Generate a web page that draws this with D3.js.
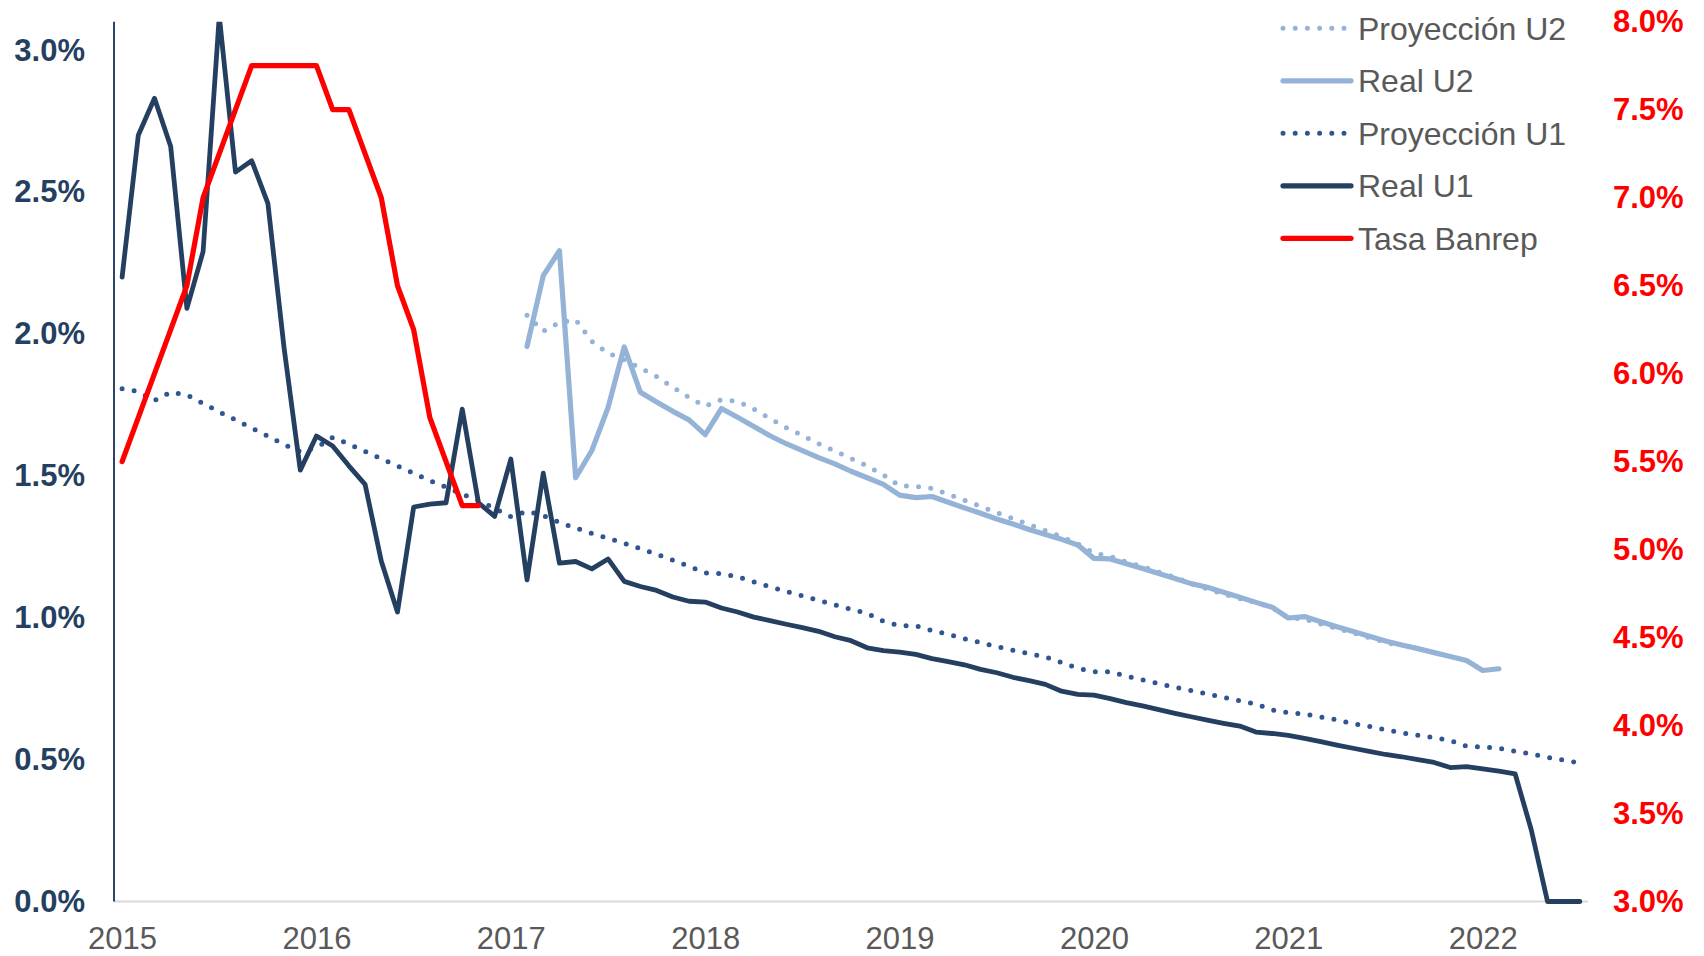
<!DOCTYPE html>
<html>
<head>
<meta charset="utf-8">
<script src="https://cdn.jsdelivr.net/npm/d3@7"></script>
<style>
  html, body { margin: 0; padding: 0; background: #fff; }
  svg { display: block; font-family: "Liberation Sans", Arial, sans-serif; }
</style>
</head>
<body>
<svg id="chart" width="1704" height="956"></svg>
<script>
// ---------------- DATA ----------------
const startMonth = "2015-01";          // first monthly observation
const monthCount = 91;                 // Jan 2015 .. Jul 2022
const yearLabels = ["2015","2016","2017","2018","2019","2020","2021","2022"];
const leftTicks  = [0, 0.5, 1.0, 1.5, 2.0, 2.5, 3.0];
const rightTicks = [3.0, 3.5, 4.0, 4.5, 5.0, 5.5, 6.0, 6.5, 7.0, 7.5, 8.0];

const realU1 = [
  2.20, 2.70, 2.83, 2.66, 2.09, 2.29, 3.12, 2.57, 2.61, 2.46, 1.95, 1.52,
  1.64, 1.605, 1.535, 1.47, 1.20, 1.02, 1.39, 1.40, 1.405, 1.735, 1.405, 1.357,
  1.559, 1.133, 1.509, 1.192, 1.198, 1.172, 1.207, 1.128, 1.110, 1.096, 1.073, 1.058,
  1.055, 1.034, 1.020, 1.002, 0.990, 0.977, 0.965, 0.952, 0.933, 0.919, 0.894, 0.884,
  0.879, 0.871, 0.856, 0.845, 0.834, 0.818, 0.806, 0.790, 0.778, 0.765, 0.741, 0.730,
  0.727, 0.715, 0.701, 0.689, 0.676, 0.663, 0.651, 0.639, 0.628, 0.618, 0.597, 0.592,
  0.585, 0.575, 0.563, 0.551, 0.540, 0.529, 0.518, 0.510, 0.500, 0.490, 0.472, 0.475,
  0.467, 0.459, 0.450, 0.252, 0, 0, 0
];
const proyU1 = [
  1.807, 1.797, 1.765, 1.795, 1.785, 1.755, 1.725, 1.697, 1.668, 1.640, 1.610, 1.585,
  1.600, 1.635, 1.612, 1.586, 1.560, 1.535, 1.509, 1.483, 1.460, 1.435, 1.413, 1.385,
  1.356, 1.375, 1.360, 1.336, 1.316, 1.297, 1.280, 1.262, 1.243, 1.224, 1.203, 1.181,
  1.158, 1.155, 1.144, 1.126, 1.109, 1.093, 1.077, 1.061, 1.045, 1.030, 1.015, 0.987,
  0.972, 0.971, 0.955, 0.941, 0.926, 0.912, 0.898, 0.885, 0.873, 0.862, 0.842, 0.822,
  0.810, 0.809, 0.794, 0.781, 0.768, 0.755, 0.743, 0.731, 0.719, 0.707, 0.696, 0.675,
  0.665, 0.661, 0.650, 0.640, 0.626, 0.617, 0.605, 0.594, 0.586, 0.577, 0.567, 0.547,
  0.545, 0.540, 0.529, 0.520, 0.508, 0.498, 0.488
];
const u2Start = "2017-02";             // U2 series begin here
const realU2 = [
  1.956, 2.205, 2.293, 1.493, 1.589, 1.740, 1.954, 1.794, 1.760, 1.727, 1.697,
  1.645, 1.737, 1.706, 1.674, 1.641, 1.613, 1.589, 1.564, 1.542, 1.516, 1.493, 1.470,
  1.432, 1.423, 1.427, 1.407, 1.387, 1.368, 1.348, 1.330, 1.311, 1.293, 1.276, 1.256,
  1.209, 1.207, 1.190, 1.173, 1.156, 1.138, 1.120, 1.107, 1.090, 1.072, 1.054, 1.037,
  0.999, 1.004, 0.986, 0.968, 0.951, 0.935, 0.918, 0.904, 0.891, 0.877, 0.863, 0.849,
  0.814, 0.820
];
const proyU2 = [
  2.066, 2.009, 2.040, 2.050, 1.974, 1.932, 1.908, 1.880, 1.850, 1.812, 1.776,
  1.745, 1.768, 1.762, 1.735, 1.702, 1.670, 1.642, 1.613, 1.587, 1.561, 1.535, 1.503,
  1.465, 1.462, 1.456, 1.435, 1.414, 1.392, 1.370, 1.349, 1.328, 1.307, 1.285, 1.260,
  1.228, 1.216, 1.196, 1.180, 1.161, 1.142, 1.121, 1.101, 1.083, 1.067, 1.053, 1.036,
  1.000, 0.995, 0.978, 0.962, 0.946, 0.930, 0.914, 0.898
];
const tasaBanrep = [
  5.50, 5.75, 6.00, 6.25, 6.50, 7.00, 7.25, 7.50, 7.75, 7.75, 7.75, 7.75,
  7.75, 7.50, 7.50, 7.25, 7.00, 6.50, 6.25, 5.75, 5.50, 5.25, 5.25
];

const seriesNames = ["Proyección U2", "Real U2", "Proyección U1", "Real U1", "Tasa Banrep"];

// ---------------- BUILD ----------------
const parseM = d3.timeParse("%Y-%m");
const fmtM = d3.timeFormat("%Y-%m");
const months = d3.timeMonth.range(parseM(startMonth), d3.timeMonth.offset(parseM(startMonth), monthCount)).map(fmtM);
const u2Offset = months.indexOf(u2Start);

const toPts = (vals, off) => vals.map((v, i) => ({ m: months[i + off], v }));

const svg = d3.select("#chart");
svg.append("rect").attr("width", 1704).attr("height", 956).attr("fill", "#fff");

const plot = { left: 114, right: 1588, top: 21.7, bottom: 901.5 };

const x = d3.scalePoint().domain(months).range([plot.left, plot.right]).padding(0.5);
const yL = d3.scaleLinear().domain([0, 3.1]).range([plot.bottom, plot.top]);
const yR = d3.scaleLinear().domain([3, 8]).range([plot.bottom, plot.top]);

const FONT = '"Liberation Sans", Arial, sans-serif';

// clip top of plot
svg.append("defs").append("clipPath").attr("id", "clipTop")
  .append("rect").attr("x", 0).attr("y", plot.top).attr("width", 1704).attr("height", 956 - plot.top);

// bottom axis line (gray)
svg.append("line")
  .attr("x1", plot.left).attr("x2", plot.right)
  .attr("y1", plot.bottom).attr("y2", plot.bottom)
  .attr("stroke", "#D9D9D9").attr("stroke-width", 2);

// X axis labels
const xAxis = d3.axisBottom(x)
  .tickValues(months.filter(m => m.endsWith("-01")))
  .tickFormat(m => yearLabels[yearLabels.indexOf(m.slice(0, 4))])
  .tickSize(0).tickPadding(0);
const gx = svg.append("g").attr("transform", `translate(0,${plot.bottom})`).call(xAxis);
gx.select(".domain").remove();
gx.selectAll("text").attr("y", 37).attr("dy", "0.35em")
  .attr("fill", "#595959").style("font-size", "31px").style("font-family", FONT);

// Left axis
const yAxisL = d3.axisLeft(yL).tickValues(leftTicks)
  .tickFormat(d => d.toFixed(1) + "%").tickSize(0).tickPadding(29);
const gl = svg.append("g").attr("transform", `translate(${plot.left},0)`).call(yAxisL);
gl.select(".domain").remove();
gl.selectAll("text").attr("fill", "#253F61").style("font-size", "31px")
  .style("font-weight", "bold").style("font-family", FONT);
svg.append("line")
  .attr("x1", plot.left).attr("x2", plot.left)
  .attr("y1", plot.top).attr("y2", plot.bottom)
  .attr("stroke", "#2B4468").attr("stroke-width", 2);

// Right axis
const yAxisR = d3.axisRight(yR).tickValues(rightTicks)
  .tickFormat(d => d.toFixed(1) + "%").tickSize(0).tickPadding(25);
const gr = svg.append("g").attr("transform", `translate(${plot.right},0)`).call(yAxisR);
gr.select(".domain").remove();
gr.selectAll("text").attr("fill", "#FF0000").style("font-size", "31px")
  .style("font-weight", "bold").style("font-family", FONT);

// Lines
const lineL = d3.line().x(d => x(d.m)).y(d => yL(d.v));
const lineR = d3.line().x(d => x(d.m)).y(d => yR(d.v));

const styles = {
  "Proyección U2": { color: "#95B3D7", width: 5, dash: "0 12.2" },
  "Real U2":       { color: "#95B3D7", width: 5.2, dash: null },
  "Proyección U1": { color: "#2F5690", width: 5, dash: "0 12.2" },
  "Real U1":       { color: "#253F61", width: 4.8, dash: null },
  "Tasa Banrep":   { color: "#FF0000", width: 5.2, dash: null }
};

const seriesData = [
  { name: "Proyección U2", pts: toPts(proyU2, u2Offset), gen: lineL },
  { name: "Real U2",       pts: toPts(realU2, u2Offset), gen: lineL },
  { name: "Proyección U1", pts: toPts(proyU1, 0), gen: lineL },
  { name: "Real U1",       pts: toPts(realU1, 0), gen: lineL },
  { name: "Tasa Banrep",   pts: toPts(tasaBanrep, 0), gen: lineR }
];

const gLines = svg.append("g").attr("clip-path", "url(#clipTop)");
seriesData.forEach(s => {
  const st = styles[s.name];
  gLines.append("path")
    .datum(s.pts)
    .attr("d", s.gen)
    .attr("fill", "none")
    .attr("stroke", st.color)
    .attr("stroke-width", st.width)
    .attr("stroke-linejoin", "round")
    .attr("stroke-linecap", "round")
    .attr("stroke-dasharray", st.dash);
});

// Legend
const legend = svg.append("g");
const legX1 = 1283, legX2 = 1351, legTextX = 1358, legY0 = 28.3, legStep = 52.5;
seriesNames.forEach((name, i) => {
  const st = styles[name];
  const cy = legY0 + i * legStep;
  legend.append("line")
    .attr("x1", legX1).attr("x2", st.dash ? legX1 + 62 : legX2)
    .attr("y1", cy).attr("y2", cy)
    .attr("stroke", st.color).attr("stroke-width", st.dash ? 5 : 5.2)
    .attr("stroke-linecap", "round")
    .attr("stroke-dasharray", st.dash);
  legend.append("text")
    .attr("x", legTextX).attr("y", cy + 11.5)
    .attr("fill", "#595959")
    .style("font-size", "32px").style("font-family", FONT)
    .text(name);
});
</script>
</body>
</html>
